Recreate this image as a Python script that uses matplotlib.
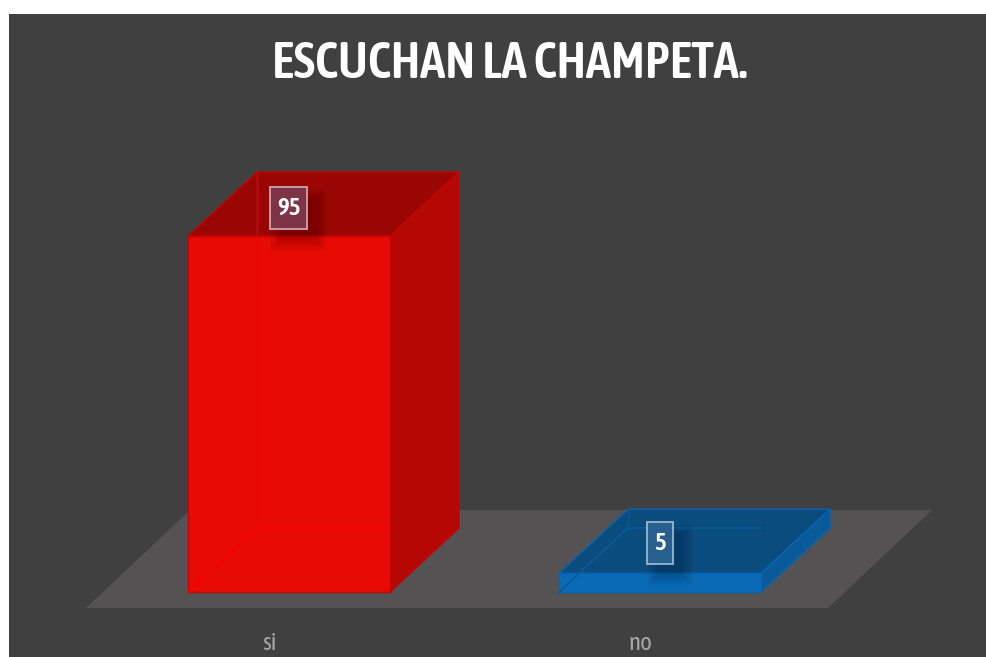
import matplotlib
matplotlib.use("Agg")
import matplotlib.pyplot as plt
from matplotlib.patches import Polygon, Rectangle

title = "ESCUCHAN LA CHAMPETA."
categories = ["si", "no"]
values = [95, 5]

W, H = 987, 657
PX_X = 371.0      # pixels per category step
PX_Y = 356 / 95   # pixels per value unit
X0_PX, Y0_PX = 289.0, 592.0
NARROW = ["Asap Condensed", "Roboto", "DejaVu Sans"]

fig = plt.figure(figsize=(W / 100, H / 100), dpi=100, facecolor="white")
ax = fig.add_axes([0, 0, 1, 1])
ax.set_xlim(-X0_PX / PX_X, (W - X0_PX) / PX_X)
ax.set_ylim(-(H - Y0_PX) / PX_Y, Y0_PX / PX_Y)
ax.axis("off")

def dx(p): return p / PX_X
def dy(p): return p / PX_Y

# panel and floor
ax.add_patch(Rectangle((dx(9 - X0_PX), dy(Y0_PX - H)), dx(W - 9), dy(H - 14),
                       fc="#404040", ec="none", zorder=0))
fl, fr, fb, ft = dx(86 - X0_PX), dx(828 - X0_PX), dy(-16), dy(82)
fs = dx(104)
ax.add_patch(Polygon([(fl, fb), (fr, fb), (fr + fs, ft), (fl + fs, ft)],
                     fc="#545252", ec="none", zorder=1))

half = dx(101)
ox, oy = dx(69), dy(64)
styles = [
    dict(front="#E80A05", top="#9A0604", side="#B50804", edge="#C40402", inner="#FA0000",
         box="#7F3347", boxedge="#C39CA6", boxw=37, off=7.5),
    dict(front="#0A6AB5", top="#0B4C7F", side="#0A5A9A", edge="#0565B2", inner="#0A5A95",
         box="#27608F", boxedge="#8FAFC8", boxw=26, off=8.1),
]

for i, (cat, v, s) in enumerate(zip(categories, values, styles)):
    l, r = i - half, i + half
    z = 3
    ax.add_patch(Polygon([(l, v), (r, v), (r + ox, v + oy), (l + ox, v + oy)],
                         fc=s["top"], ec=s["edge"], lw=1.0, zorder=z, joinstyle="round"))
    ax.add_patch(Polygon([(r, 0), (r + ox, oy), (r + ox, v + oy), (r, v)],
                         fc=s["side"], ec=s["edge"], lw=1.0, zorder=z, joinstyle="round"))
    ax.add_patch(Rectangle((l, 0), r - l, v, fc=s["front"], ec=s["edge"], lw=1.0, zorder=z + 1))
    # hidden edges seen through the translucent box
    ax.plot([l, l + ox, r], [0, oy, oy], color=s["inner"], lw=1.3, zorder=z + 2)
    ax.plot([l + ox, l + ox], [oy, v + oy], color=s["inner"], lw=1.0, alpha=.7, zorder=z + 2)

    # data label: soft shadow, box, text
    cy = v + s["off"]
    bw, bh = dx(s["boxw"]), dy(42)
    for grow in range(12, 0, -2):
        ax.add_patch(Rectangle((i - bw / 2 + dx(12 - grow), cy - bh / 2 - dy(10 + grow)),
                               bw + dx(2 * grow - 4), bh + dy(2 * grow - 4),
                               fc="black", ec="none", alpha=.03, zorder=6))
    ax.add_patch(Rectangle((i - bw / 2, cy - bh / 2), bw, bh, fc=s["box"], ec=s["boxedge"],
                           lw=1.4, zorder=7))
    ax.text(i, cy - dy(1), str(v), color="white", fontsize=18, fontweight=600, family=NARROW,
            ha="center", va="center", zorder=8)
    ax.text(i - dx(20), dy(Y0_PX - 643), cat, color="#A6A6A6", fontsize=18, family=NARROW,
            ha="center", va="center", zorder=8)

ax.text(dx(510 - X0_PX), dy(Y0_PX - 65), title, color="white", fontsize=36.5,
        fontweight=600, family=NARROW, ha="center", va="center", zorder=8)

fig.savefig("out.png", dpi=100, facecolor="white")
